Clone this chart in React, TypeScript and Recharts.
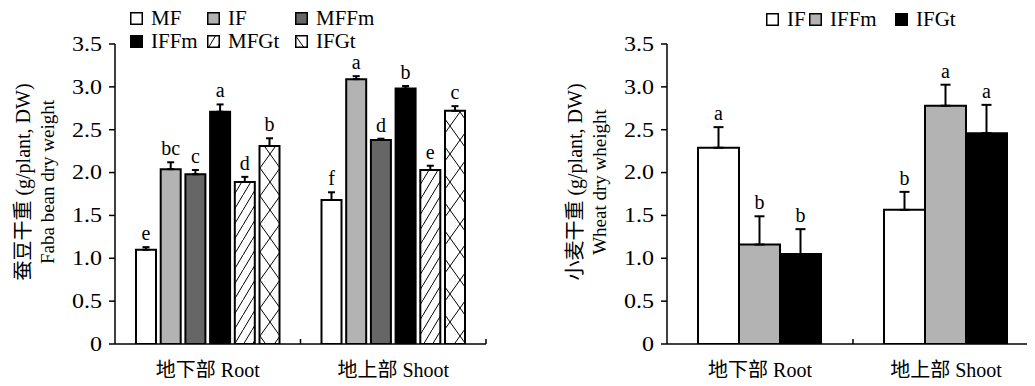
import React from 'react';
import { BarChart, Bar, XAxis, YAxis, ErrorBar, LabelList, Legend, Label } from 'recharts';

const FONT = "'Liberation Serif', 'Noto Sans CJK SC', serif";

const categories = ['地下部 Root', '地上部 Shoot'];
const yTicks = [0, 0.5, 1, 1.5, 2, 2.5, 3, 3.5];

// Faba bean (left panel)
const fabaSeries = ['MF', 'IF', 'MFFm', 'IFFm', 'MFGt', 'IFGt'];
const fabaMF = [1.1, 1.68];
const fabaIF = [2.04, 3.09];
const fabaMFFm = [1.98, 2.38];
const fabaIFFm = [2.71, 2.98];
const fabaMFGt = [1.89, 2.03];
const fabaIFGt = [2.31, 2.72];
const fabaMFErr = [0.03, 0.09];
const fabaIFErr = [0.08, 0.035];
const fabaMFFmErr = [0.05, 0.015];
const fabaIFFmErr = [0.085, 0.03];
const fabaMFGtErr = [0.06, 0.05];
const fabaIFGtErr = [0.09, 0.055];
const fabaMFLetters = ['e', 'f'];
const fabaIFLetters = ['bc', 'a'];
const fabaMFFmLetters = ['c', 'd'];
const fabaIFFmLetters = ['a', 'b'];
const fabaMFGtLetters = ['d', 'e'];
const fabaIFGtLetters = ['b', 'c'];

// Wheat (right panel)
const wheatSeries = ['IF', 'IFFm', 'IFGt'];
const wheatIF = [2.29, 1.565];
const wheatIFFm = [1.16, 2.78];
const wheatIFGt = [1.05, 2.46];
const wheatIFErr = [0.24, 0.21];
const wheatIFFmErr = [0.33, 0.245];
const wheatIFGtErr = [0.29, 0.33];
const wheatIFLetters = ['a', 'b'];
const wheatIFFmLetters = ['b', 'a'];
const wheatIFGtLetters = ['b', 'a'];

const fabaFills: Record<string, string> = {
  MF: '#ffffff',
  IF: '#b3b3b3',
  MFFm: '#666666',
  IFFm: '#000000',
  MFGt: 'url(#diagHatch)',
  IFGt: 'url(#crossHatch)',
};
const wheatFills: Record<string, string> = {
  IF: '#ffffff',
  IFFm: '#b3b3b3',
  IFGt: '#000000',
};

function buildRows(series: string[], values: number[][], errs: number[][], letters: string[][]) {
  return categories.map((c, i) => {
    const row: any = { category: c };
    series.forEach((s, k) => {
      row[s] = values[k][i];
      row[s + '_err'] = errs[k][i];
      row[s + '_range'] = [0, errs[k][i]];
      row[s + '_lab'] = letters[k][i];
    });
    return row;
  });
}

const fabaRows = buildRows(
  fabaSeries,
  [fabaMF, fabaIF, fabaMFFm, fabaIFFm, fabaMFGt, fabaIFGt],
  [fabaMFErr, fabaIFErr, fabaMFFmErr, fabaIFFmErr, fabaMFGtErr, fabaIFGtErr],
  [fabaMFLetters, fabaIFLetters, fabaMFFmLetters, fabaIFFmLetters, fabaMFGtLetters, fabaIFGtLetters]
);
const wheatRows = buildRows(
  wheatSeries,
  [wheatIF, wheatIFFm, wheatIFGt],
  [wheatIFErr, wheatIFFmErr, wheatIFGtErr],
  [wheatIFLetters, wheatIFFmLetters, wheatIFGtLetters]
);

const CHART_W = 500;
const CHART_H = 386;
const Y_AXIS_W = 115;

const fmtY = (v: number) => (v === 0 ? '0' : v.toFixed(1));

const makeXTick = (band: number) => (props: any) => {
  const { x, y, payload } = props;
  return (
    <g>
      <text x={x} y={y + 33} textAnchor="middle" fontSize={20} fill="#000" fontFamily={FONT}>
        {payload.value}
      </text>
      <line x1={x + band / 2} x2={x + band / 2} y1={y} y2={y - 5} stroke="#000" strokeWidth={1.5} />
    </g>
  );
};

const YTick = (props: any) => {
  const { x, y, payload } = props;
  return (
    <text
      transform={`translate(${x},${y}) scale(1.2,1)`}
      x={0}
      y={0}
      textAnchor="end"
      dominantBaseline="central"
      fontSize={20}
      fill="#000"
      fontFamily={FONT}
    >
      {fmtY(payload.value)}
    </text>
  );
};

const makeYTitle = (line1: string, line2: string) => (props: any) => {
  const vb = props.viewBox || { x: 0, y: 44, width: Y_AXIS_W, height: 300 };
  const cy = vb.y + vb.height / 2 - 12;
  const x1 = vb.x + 23;
  const x2 = vb.x + 47;
  return (
    <g>
      <text x={x1} y={cy} transform={`rotate(-90, ${x1}, ${cy})`} textAnchor="middle" dominantBaseline="central" fontSize={20} fill="#000" fontFamily={FONT}>
        {line1}
      </text>
      <text x={x2} y={cy} transform={`rotate(-90, ${x2}, ${cy})`} textAnchor="middle" dominantBaseline="central" fontSize={19} fill="#000" fontFamily={FONT}>
        {line2}
      </text>
    </g>
  );
};

const makeLegend = (items: string[], fills: Record<string, string>, colWidths: number[], perRow: number) => () => (
  <div style={{ display: 'flex', flexWrap: 'wrap', width: colWidths.reduce((a, b) => a + b, 0), fontFamily: FONT, fontSize: 21, color: '#000' }}>
    {items.map((s, i) => (
      <div key={s} style={{ width: colWidths[i % perRow], flex: 'none', height: 23, display: 'flex', alignItems: 'center' }}>
        <svg width={13} height={13} style={{ marginRight: 8, flex: 'none' }}>
          <rect x={0.75} y={0.75} width={11.5} height={11.5} fill={fills[s]} stroke="#000" strokeWidth={1.5} />
        </svg>
        <span style={{ lineHeight: '23px', whiteSpace: 'nowrap', fontSize: 21 }}>{s}</span>
      </div>
    ))}
  </div>
);

type PanelProps = {
  rows: any[];
  series: string[];
  fills: Record<string, string>;
  marginRight: number;
  barGap: number;
  catGap: number;
  capWidth: number;
  title1: string;
  title2: string;
  legendLeft: number;
  legendTop: number;
  colWidths: number[];
  perRow: number;
};

function Panel(p: PanelProps) {
  const plotW = CHART_W - Y_AXIS_W - p.marginRight;
  const band = plotW / categories.length;
  const bars: any[] = [];
  p.series.forEach((s) => {
    bars.push(
      <Bar key={s} dataKey={s} stackId={s} fill={p.fills[s]} stroke="#000" strokeWidth={2} isAnimationActive={false}>
        <ErrorBar dataKey={s + '_range'} width={p.capWidth} stroke="#000" strokeWidth={2} direction="y" />
      </Bar>
    );
    bars.push(
      <Bar key={s + '_e'} dataKey={s + '_err'} stackId={s} fill="none" stroke="none" isAnimationActive={false}>
        <LabelList dataKey={s + '_lab'} position="top" offset={7} fill="#000" fontSize={20} fontFamily={FONT} />
      </Bar>
    );
  });
  return (
    <BarChart
      width={CHART_W}
      height={CHART_H}
      data={p.rows}
      margin={{ top: 44, right: p.marginRight, bottom: 0, left: 0 }}
      barGap={p.barGap}
      barCategoryGap={p.catGap}
    >
      <XAxis
        dataKey="category"
        height={42}
        axisLine={{ stroke: '#000', strokeWidth: 1.5 }}
        tickLine={false}
        tickSize={0}
        tickMargin={0}
        tick={makeXTick(band)}
        interval={0}
      />
      <YAxis
        width={Y_AXIS_W}
        domain={[0, 3.5]}
        ticks={yTicks}
        axisLine={{ stroke: '#000', strokeWidth: 1.5 }}
        tickLine={{ stroke: '#000', strokeWidth: 1.5 }}
        tickSize={6}
        tickMargin={7}
        tick={YTick}
        allowDataOverflow
      >
        <Label content={makeYTitle(p.title1, p.title2)} />
      </YAxis>
      <Legend
        layout="horizontal"
        verticalAlign="middle"
        align="center"
        wrapperStyle={{ top: p.legendTop, left: p.legendLeft, width: 'auto', height: 'auto' }}
        content={makeLegend(p.series, p.fills, p.colWidths, p.perRow)}
      />
      {bars}
    </BarChart>
  );
}

export default function App() {
  return (
    <div style={{ position: 'relative', width: 1035, height: 386, margin: -8, overflow: 'hidden', background: '#fff', fontFamily: FONT }}>
      <svg width={0} height={0} style={{ position: 'absolute' }}>
        <defs>
          <pattern id="diagHatch" patternUnits="userSpaceOnUse" width={9} height={15}>
            <rect width={9} height={15} fill="#fff" />
            <path d="M-1,16.7 L10,-1.7" stroke="#000" strokeWidth={1} />
          </pattern>
          <pattern id="crossHatch" patternUnits="userSpaceOnUse" width={20} height={28}>
            <rect width={20} height={28} fill="#fff" />
            <path d="M-1,-1.4 L21,29.4 M21,-1.4 L-1,29.4" stroke="#000" strokeWidth={1} />
          </pattern>
        </defs>
      </svg>
      <div style={{ position: 'absolute', left: 0, top: 0 }}>
        <Panel
          rows={fabaRows}
          series={fabaSeries}
          fills={fabaFills}
          marginRight={14}
          barGap={4.7}
          catGap={21}
          capWidth={3.5}
          title1="蚕豆干重 (g/plant, DW)"
          title2="Faba bean dry weight"
          legendLeft={130}
          legendTop={7}
          colWidths={[77, 88, 95]}
          perRow={3}
        />
      </div>
      <div style={{ position: 'absolute', left: 552, top: 0 }}>
        <Panel
          rows={wheatRows}
          series={wheatSeries}
          fills={wheatFills}
          marginRight={13}
          barGap={0}
          catGap={31}
          capWidth={5}
          title1="小麦干重 (g/plant, DW)"
          title2="Wheat dry wheight"
          legendLeft={214}
          legendTop={8}
          colWidths={[43, 86, 80]}
          perRow={3}
        />
      </div>
    </div>
  );
}
